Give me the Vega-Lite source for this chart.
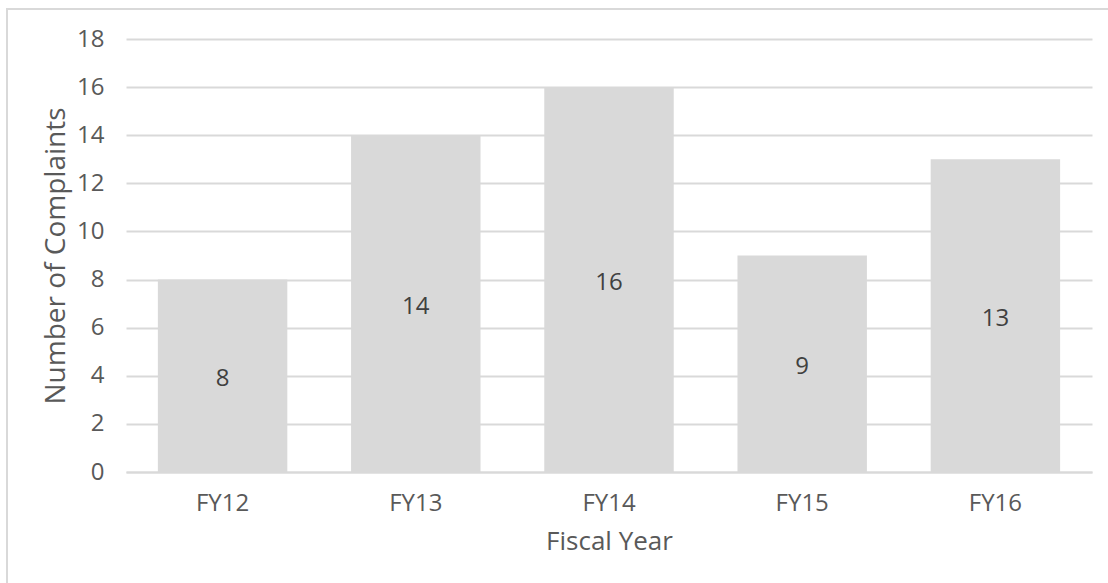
{
  "$schema": "https://vega.github.io/schema/vega-lite/v6.json",
  "width": 966,
  "height": 433,
  "padding": {"left": 126, "top": 39, "right": 16, "bottom": 111},
  "autosize": {"type": "none"},
  "background": "white",
  "config": {
    "view": {"stroke": null},
    "font": "Open Sans",
    "axis": {
      "labelFont": "Open Sans",
      "titleFont": "Open Sans",
      "labelColor": "#595959",
      "titleColor": "#595959",
      "titleFontWeight": "normal"
    }
  },
  "datasets": {
    "complaints": [
      {"year": "FY12", "count": 8},
      {"year": "FY13", "count": 14},
      {"year": "FY14", "count": 16},
      {"year": "FY15", "count": 9},
      {"year": "FY16", "count": 13}
    ],
    "frame": [{"x0": 0, "x1": 1, "y0": 0, "y1": 1}]
  },
  "layer": [
    {
      "data": {"name": "complaints"},
      "encoding": {
        "x": {
          "field": "year",
          "type": "nominal",
          "sort": null,
          "scale": {"paddingInner": 0.33, "paddingOuter": 0.165},
          "axis": {
            "title": "Fiscal Year",
            "labelAngle": 0,
            "labelFontSize": 24,
            "titleFontSize": 26,
            "labelPadding": 19,
            "titlePadding": 13,
            "ticks": false,
            "domain": true,
            "domainColor": "#d9d9d9",
            "domainWidth": 2
          }
        },
        "y": {
          "field": "count",
          "type": "quantitative",
          "scale": {"domain": [0, 18]},
          "axis": {
            "title": "Number of Complaints",
            "values": [0, 2, 4, 6, 8, 10, 12, 14, 16, 18],
            "labelFontSize": 24,
            "titleFontSize": 28,
            "labelPadding": 22,
            "titlePadding": 6,
            "ticks": false,
            "domain": false,
            "grid": true,
            "gridColor": "#d9d9d9",
            "gridWidth": 2
          }
        }
      },
      "layer": [
        {"mark": {"type": "bar", "color": "#d9d9d9"}},
        {
          "transform": [{"calculate": "datum.count / 2", "as": "labelPos"}],
          "mark": {"type": "text", "fontSize": 24, "color": "#404040", "baseline": "middle", "dy": 3},
          "encoding": {
            "y": {"field": "labelPos", "type": "quantitative"},
            "text": {"field": "count", "type": "quantitative"}
          }
        }
      ]
    },
    {
      "data": {"name": "frame"},
      "mark": {"type": "rect", "filled": false, "stroke": "#d9d9d9", "strokeWidth": 2, "clip": false},
      "encoding": {
        "x": {"field": "x0", "type": "quantitative", "scale": {"domain": [0, 1], "range": [-119, 990]}, "axis": null},
        "x2": {"field": "x1"},
        "y": {"field": "y0", "type": "quantitative", "scale": {"domain": [0, 1], "range": [550, -30]}, "axis": null},
        "y2": {"field": "y1"}
      }
    }
  ],
  "resolve": {"scale": {"x": "independent", "y": "independent"}}
}
